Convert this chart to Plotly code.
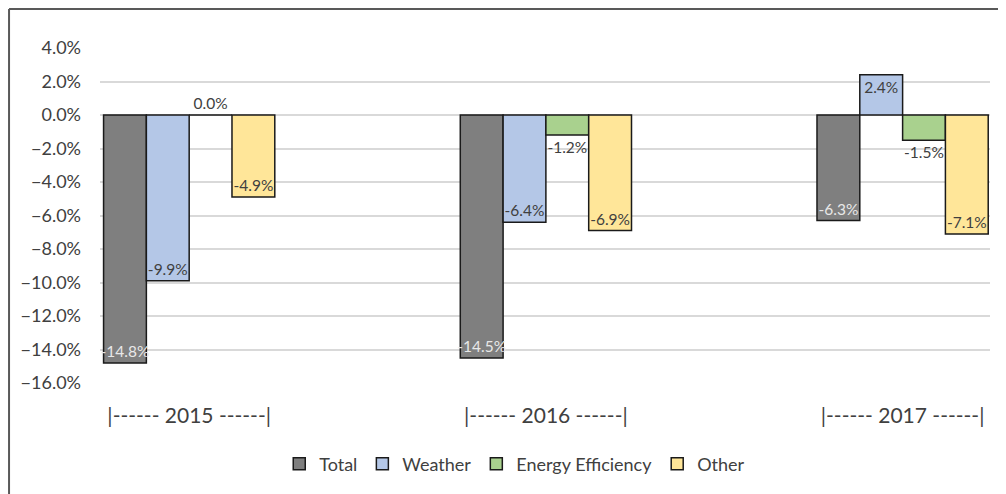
import plotly.graph_objects as go

# categories and series (percent change)
years = ["|------ 2015 ------|", "|------ 2016 ------|", "|------ 2017 ------|"]
total = [-14.8, -14.5, -6.3]
weather = [-9.9, -6.4, 2.4]
energy_eff = [0.0, -1.2, -1.5]
other = [-4.9, -6.9, -7.1]

font_name = "Lato, 'Liberation Sans', sans-serif"

fig = go.Figure()

series = [
    ("Total", total, "#7f7f7f", "inside", "#e8e8e8"),
    ("Weather", weather, "#b4c7e7", "inside", "#404040"),
    ("Energy Efficiency", energy_eff, "#a9d18e", "outside", "#404040"),
    ("Other", other, "#ffe699", "inside", "#404040"),
]

for name, vals, col, pos, txtcol in series:
    fig.add_trace(go.Bar(
        x=years, y=vals, name=name,
        marker=dict(color=col, line=dict(color="#1a1a1a", width=1.5)),
        texttemplate="%{y:.1f}%",
        textposition=pos,
        textangle=0,
        insidetextanchor="end",
        constraintext="none",
        cliponaxis=False,
        textfont=dict(size=15.5, color=txtcol, family=font_name),
    ))

# page body adds 8px offset, margins compensate
fig.update_layout(
    width=1006, height=494,
    margin=dict(l=92, r=24, t=40, b=119, autoexpand=False),
    paper_bgcolor="white", plot_bgcolor="white",
    barmode="group", bargap=0.52, bargroupgap=0,
    font=dict(family=font_name, color="#404040"),
    showlegend=True,
    legend=dict(orientation="h", x=0.466, xanchor="center", y=-0.242, yanchor="middle",
                font=dict(size=18, color="#404040"), itemwidth=30),
)

fig.update_xaxes(
    range=[-0.25, 2.245], showgrid=False, zeroline=False, showline=False,
    tickfont=dict(size=21, color="#404040"), ticklabelstandoff=18,
)
fig.update_yaxes(
    range=[-16, 4], dtick=2, tickformat=".1f", ticksuffix="%",
    showgrid=True, gridcolor="#d9d9d9", gridwidth=1.5,
    zeroline=True, zerolinecolor="#d9d9d9", zerolinewidth=1.5,
    tickfont=dict(size=18, color="#404040"), ticklabelstandoff=18,
)

# chart frame (left and top edges)
fig.add_shape(type="line", xref="paper", yref="paper", x0=-0.1022, x1=1.03, y0=1.1164, y1=1.1164,
              line=dict(color="#595959", width=2))
fig.add_shape(type="line", xref="paper", yref="paper", x0=-0.1022, x1=-0.1022, y0=-0.36, y1=1.1164,
              line=dict(color="#595959", width=2))

fig.write_html("out.html")
